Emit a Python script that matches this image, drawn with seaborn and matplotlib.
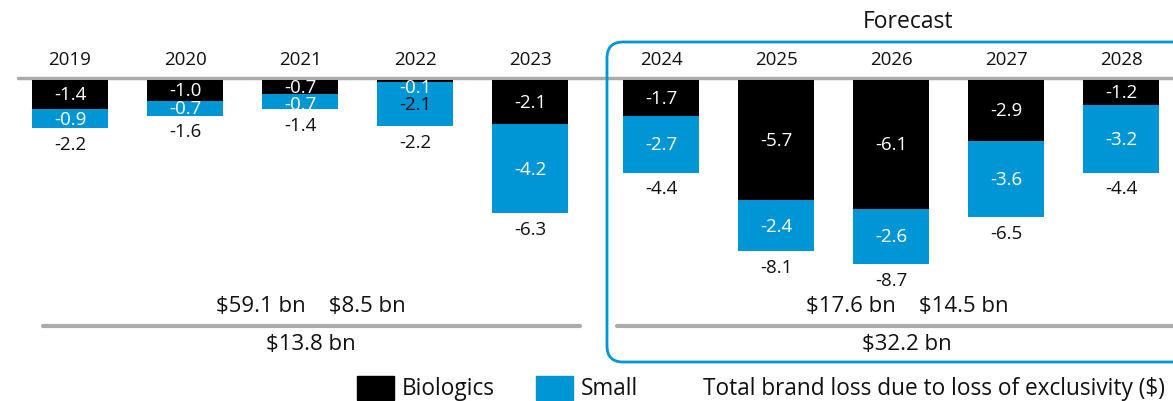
import matplotlib
matplotlib.use("Agg")
import matplotlib.pyplot as plt
import matplotlib.transforms as mtransforms
from matplotlib.patches import FancyBboxPatch, Rectangle
import numpy as np
import pandas as pd
import seaborn as sns

# ---- data ----
years = ["2019", "2020", "2021", "2022", "2023", "2024", "2025", "2026", "2027", "2028"]
biologics = [-1.4, -1.0, -0.7, -0.1, -2.1, -1.7, -5.7, -6.1, -2.9, -1.2]
small = [-0.9, -0.7, -0.7, -2.1, -4.2, -2.7, -2.4, -2.6, -3.6, -3.2]
totals = [-2.2, -1.6, -1.4, -2.2, -6.3, -4.4, -8.1, -8.7, -6.5, -4.4]
forecast_flag = [0, 0, 0, 0, 0, 1, 1, 1, 1, 1]
small_label_colors = ["white", "white", "white", "#111111", "white",
                      "white", "white", "white", "white", "white"]
hist_summary_top = "\\$59.1 bn    \\$8.5 bn"
hist_summary_bottom = "\\$13.8 bn"
fc_summary_top = "\\$17.6 bn    \\$14.5 bn"
fc_summary_bottom = "\\$32.2 bn"
legend_labels = ["Biologics", "Small", "Total brand loss due to loss of exclusivity (\\$)"]

BLUE = "#0096D6"
GRAY = "#AAAAAA"
TXT = "#111111"
W, H = 1173, 402

sns.set_theme(style="white")
plt.rcParams["font.family"] = ["Open Sans", "DejaVu Sans"]

fig = plt.figure(figsize=(W / 100, H / 100), dpi=100)
ax = fig.add_axes([0, 0, 1, 1])

# x positions: index plus a small gap before the forecast block
pos = [i + 0.14 * f for i, f in enumerate(forecast_flag)]
df = pd.DataFrame({"pos": pos, "bio": biologics, "small": small,
                   "stack": [b + s for b, s in zip(biologics, small)]})

sns.barplot(data=df, x="pos", y="stack", native_scale=True, color=BLUE,
            saturation=1, width=0.66, linewidth=0, ax=ax)
sns.barplot(data=df, x="pos", y="bio", native_scale=True, color="black",
            saturation=1, width=0.66, linewidth=0, ax=ax)

# pixel mapping: zero at y=80.5 px, 21.2 px per unit; x=0 at 70 px, 115 px per unit
y0 = 80.5
ppu_y = 21.2
ax.set_ylim(-(H - y0) / ppu_y, y0 / ppu_y)
ax.set_xlim(-70 / 115, (W - 70) / 115)
ax.axis("off")

fs = 13.5
for i, p in enumerate(pos):
    b, s, t = biologics[i], small[i], totals[i]
    bl = min(b / 2, -0.36)
    ax.text(p, bl, f"{b:.1f}", ha="center", va="center", color="white", fontsize=fs)
    sl = min(b + s / 2, bl - 0.8)
    ax.text(p, sl, f"{s:.1f}", ha="center", va="center", color=small_label_colors[i], fontsize=fs)
    ax.text(p, b + s - 0.74, f"{t:.1f}", ha="center", va="center", color=TXT, fontsize=fs)
    ax.text(p, 0.97, years[i], ha="center", va="center", color=TXT, fontsize=fs)

# pixel-space transform (y downward)
pix = mtransforms.Affine2D().scale(1, -1).translate(0, H).scale(1 / W, 1 / H) + fig.transFigure

def line(x0, x1, y, lw=3):
    fig.add_artist(plt.Line2D([x0, x1], [y, y], transform=pix, color=GRAY, lw=lw, zorder=0.5))

# zero line
fig.add_artist(plt.Line2D([18, W], [78.5, 78.5], transform=pix, color=GRAY, lw=2.5, zorder=0))
ax.set_zorder(1)
ax.patch.set_alpha(0)

# forecast box
box = FancyBboxPatch((607, 43), 620, 320, boxstyle="round,pad=0,rounding_size=16",
                     transform=pix, fill=False, edgecolor=BLUE, lw=2)
fig.add_artist(box)
fig.text(908, 22, "Forecast", transform=pix, ha="center", va="center", fontsize=16.5, color=TXT)

# summaries
line(43, 580, 327)
line(617, W, 327)
fs2 = 16
fig.text(311, 307, hist_summary_top, transform=pix, ha="center", va="center", fontsize=fs2, color=TXT)
fig.text(311, 345, hist_summary_bottom, transform=pix, ha="center", va="center", fontsize=fs2, color=TXT)
fig.text(907, 307, fc_summary_top, transform=pix, ha="center", va="center", fontsize=fs2, color=TXT)
fig.text(907, 345, fc_summary_bottom, transform=pix, ha="center", va="center", fontsize=fs2, color=TXT)

# legend
fs3 = 16.3
fig.add_artist(Rectangle((357, 377), 37, 24, transform=pix, color="black"))
fig.text(402, 389, legend_labels[0], transform=pix, ha="left", va="center", fontsize=fs3, color=TXT)
fig.add_artist(Rectangle((536, 377), 37, 24, transform=pix, color=BLUE))
fig.text(581, 389, legend_labels[1], transform=pix, ha="left", va="center", fontsize=fs3, color=TXT)
fig.text(703, 389, legend_labels[2], transform=pix, ha="left", va="center", fontsize=fs3, color=TXT)

fig.savefig("out.png", dpi=100)
